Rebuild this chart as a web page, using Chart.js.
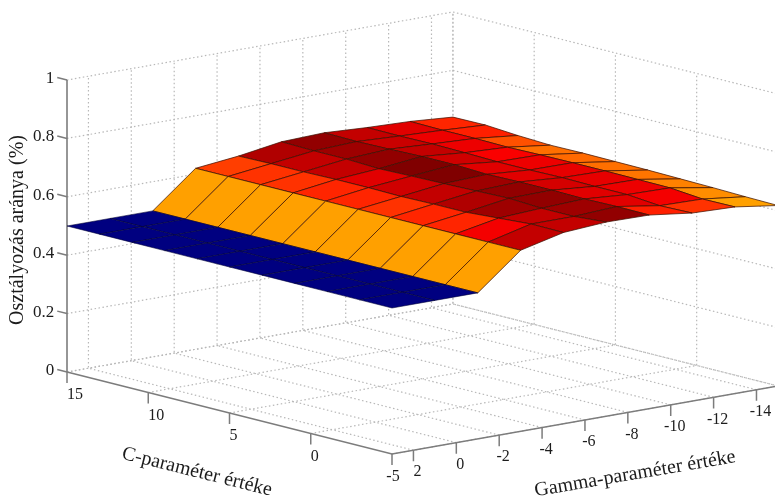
<!DOCTYPE html>
<html>
<head>
<meta charset="utf-8">
<title>Osztályozás aránya</title>
<script src="https://cdn.jsdelivr.net/npm/chart.js@4"></script>
<style>
    html, body { margin: 0; padding: 0; background: #fff; }
    canvas { display: block; }
</style>
</head>
<body>
<canvas id="chart" width="775" height="500"></canvas>
<script>
// Data
const cValues = [15, 13, 11, 9, 7, 5, 3, 1, -1, -3, -5];
const gammaValues = [3, 1, -1, -3, -5, -7, -9, -11, -13, -15];

const rateG3 = [.5, .5, .5, .5, .5, .5, .5, .5, .5, .5, .5];
const rateG1 = [.5, .5, .5, .5, .5, .5, .5, .5, .5, .5, .5];
const rateGm1 = [.5, .5, .5, .5, .5, .5, .5, .5, .5, .5, .5];
const rateGm3 = [.62, .62, .62, .62, .62, .62, .62, .62, .62, .62, .62];
const rateGm5 = [.636, .638, .638, .64, .64, .638, .64, .64, .648, .656, .655];
const rateGm7 = [.659, .656, .656, .651, .654, .656, .659, .662, .656, .656, .665];
const rateGm9 = [.664, .662, .664, .667, .667, .662, .664, .664, .662, .664, .663];
const rateGm11 = [.656, .655, .656, .654, .651, .651, .653, .651, .651, .641, .644];
const rateGm13 = [.651, .649, .649, .647, .649, .65, .65, .649, .648, .638, .639];
const rateGm15 = [.64, .641, .633, .628, .629, .628, .627, .625, .623, .62, .618];
const rates = [rateG3, rateG1, rateGm1, rateGm3, rateGm5, rateGm7, rateGm9, rateGm11, rateGm13, rateGm15];

const rateTicks = [0, 0.2, 0.4, 0.6, 0.8, 1];
const cTicks = [15, 10, 5, 0, -5];
const gammaTicks = [2, 0, -2, -4, -6, -8, -10, -12, -14];

const C_MIN = -5, C_MAX = 15, G_MIN = -15, G_MAX = 3;
const COLOR_MIN = 0.5, COLOR_MAX = 0.667;

// 3D box -> flat coordinates of the two hidden axes
function project(gamma, c, rate) {
    return {
        x: 392 + 21.44 * (G_MAX - gamma) - 16.25 * (c - C_MIN),
        y: 454 - 3.78 * (G_MAX - gamma) - 4.1 * (c - C_MIN) - 292 * rate,
    };
}

// MATLAB jet colormap
function jet(rate) {
    const t = Math.min(1, Math.max(0, (rate - COLOR_MIN) / (COLOR_MAX - COLOR_MIN)));
    const part = v => Math.round(255 * Math.min(1, Math.max(0, 1.5 - Math.abs(4 * v))));
    return `rgb(${part(t - 0.75)},${part(t - 0.5)},${part(t - 0.25)})`;
}

function lineSet(points, color, width, dash) {
    return {
        data: points,
        showLine: true,
        borderColor: color,
        borderWidth: width,
        borderDash: dash || [],
        pointRadius: 0,
        tension: 0,
        fill: false,
    };
}

const datasets = [];
const GRID = '#b8b8b8', AXIS = '#7c7c7c';
const DOTS = [1.5, 2.5];

// Walls and floor
rateTicks.forEach(r => {
    datasets.push(lineSet([project(G_MAX, C_MAX, r), project(G_MIN, C_MAX, r), project(G_MIN, C_MIN, r)], GRID, 1.2, DOTS));
});
gammaTicks.concat(G_MIN).forEach(g => {
    datasets.push(lineSet([project(g, C_MIN, 0), project(g, C_MAX, 0), project(g, C_MAX, 1)], GRID, 1.2, DOTS));
});
cTicks.forEach(c => {
    datasets.push(lineSet([project(G_MAX, c, 0), project(G_MIN, c, 0), project(G_MIN, c, 1)], GRID, 1.2, DOTS));
});

// Box axes and their ticks
datasets.push(lineSet([project(G_MAX, C_MAX, 0), project(G_MAX, C_MAX, 1)], AXIS, 1.6));
datasets.push(lineSet([project(G_MAX, C_MAX, 0), project(G_MAX, C_MIN, 0), project(G_MIN, C_MIN, 0)], AXIS, 1.6));
rateTicks.forEach(r => {
    datasets.push(lineSet([project(G_MAX, C_MAX, r), project(G_MAX, C_MAX + 0.6, r)], AXIS, 1.5));
});
cTicks.forEach(c => {
    datasets.push(lineSet([project(G_MAX, c, 0), project(G_MAX, c, -0.038)], AXIS, 1.5));
});
gammaTicks.forEach(g => {
    datasets.push(lineSet([project(g, C_MIN, 0), project(g, C_MIN, -0.038)], AXIS, 1.5));
});

// Surface, far cells first. A cell takes the colour of its far gamma corner.
for (let i = gammaValues.length - 2; i >= 0; i--) {
    for (let j = 0; j < cValues.length - 1; j++) {
        const g0 = gammaValues[i], g1 = gammaValues[i + 1];
        const c0 = cValues[j], c1 = cValues[j + 1];
        const isBlue = rates[i + 1][j] === COLOR_MIN;
        const cell = lineSet([
            project(g0, c0, rates[i][j]),
            project(g1, c0, rates[i + 1][j]),
            project(g1, c1, rates[i + 1][j + 1]),
            project(g0, c1, rates[i][j + 1]),
            project(g0, c0, rates[i][j]),
        ], isBlue ? 'rgba(0,0,50,0.55)' : 'rgba(60,15,0,0.72)', 1);
        cell.backgroundColor = jet(rates[i + 1][j]);
        cell.fill = 'shape';
        datasets.push(cell);
    }
}

// The library paints low order last, so number the list in painting order
datasets.forEach((set, index) => { set.order = datasets.length - index; });

// Tick labels and axis titles
const FONT = '"Liberation Serif", serif';
const INK = '#1c1c1c';
const boxLabels = {
    id: 'boxLabels',
    afterDraw(chart) {
        const { ctx, scales } = chart;
        const pixel = p => ({ x: scales.x.getPixelForValue(p.x), y: scales.y.getPixelForValue(p.y) });
        const put = (text, x, y, align, angle, size) => {
            ctx.save();
            ctx.translate(x, y);
            ctx.rotate((angle || 0) * Math.PI / 180);
            ctx.font = `${size || 16}px ${FONT}`;
            ctx.fillStyle = INK;
            ctx.textAlign = align || 'center';
            ctx.textBaseline = 'middle';
            ctx.fillText(text, 0, 0);
            ctx.restore();
        };
        rateTicks.forEach(r => {
            const p = pixel(project(G_MAX, C_MAX + 0.6, r));
            put(String(r), p.x - 3, p.y + 1, 'right', 0, 17);
        });
        cTicks.forEach(c => {
            const p = pixel(project(G_MAX, c, 0));
            if (c === -5) put(String(c), p.x + 1, p.y + 23);
            else put(String(c), p.x, p.y + 23, 'left');
        });
        gammaTicks.forEach(g => {
            const p = pixel(project(g, C_MIN, 0));
            put(String(g), p.x + 4, p.y + 22);
        });
        put('Osztályozás aránya (%)', 18, 230, 'center', -90, 20);
        put('C-paraméter értéke', 197, 472, 'center', 14, 20);
        put('Gamma-paraméter értéke', 635, 474, 'center', -9.7, 20);
    },
};

new Chart(document.getElementById('chart').getContext('2d'), {
    type: 'scatter',
    data: { datasets: datasets },
    options: {
        responsive: false,
        animation: false,
        layout: { padding: 0 },
        plugins: { legend: { display: false }, tooltip: { enabled: false } },
        scales: {
            x: { type: 'linear', display: false, min: 0, max: 775 },
            y: { type: 'linear', display: false, min: 0, max: 500, reverse: true },
        },
    },
    plugins: [boxLabels],
});
</script>
</body>
</html>
